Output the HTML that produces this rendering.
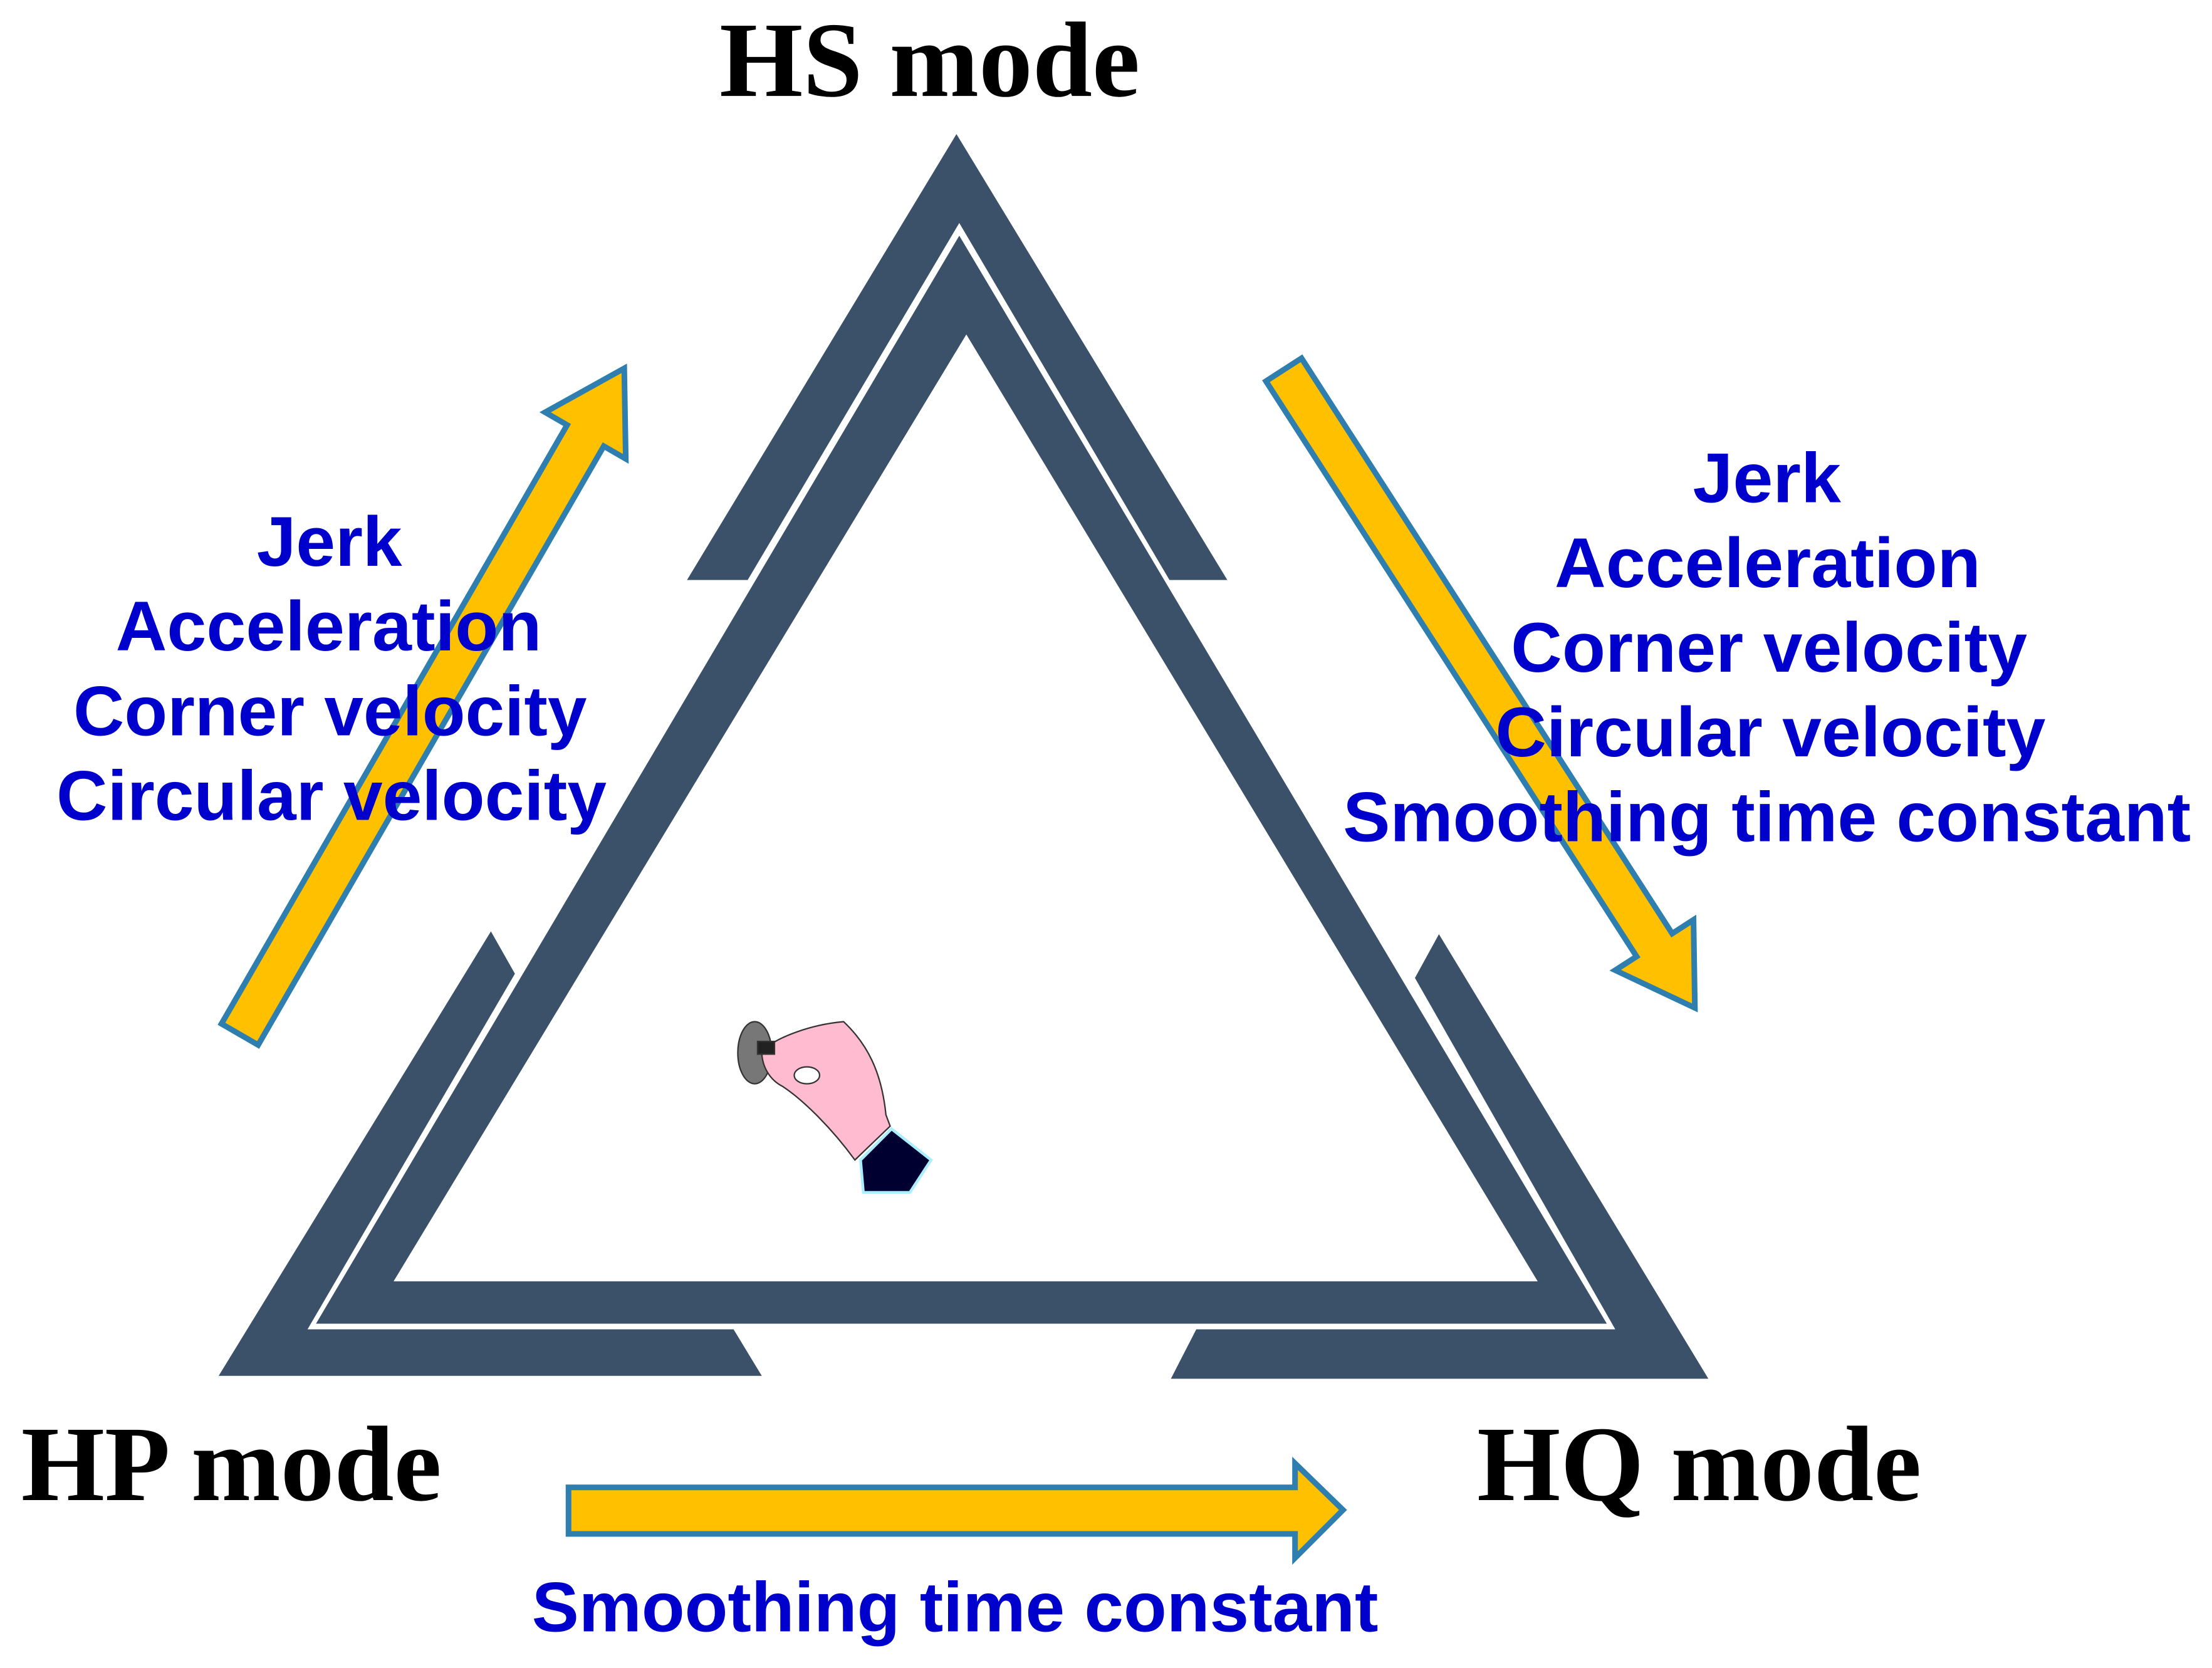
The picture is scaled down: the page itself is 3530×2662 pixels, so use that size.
<!DOCTYPE html>
<html><head><meta charset="utf-8"><style>html,body{margin:0;padding:0;background:#fff}svg{display:block}</style></head>
<body>
<svg width="3530" height="2662" viewBox="0 0 1568 1182" preserveAspectRatio="none" xmlns="http://www.w3.org/2000/svg">
<rect width="1568" height="1182" fill="#fff"/>
<g fill="#3a5169">
<polygon points="678,95 870,411 829,411 680,158 530,411 487,411"/>
<polygon points="348,660 365,690 218,942 520,942 540,975 155,975"/>
<polygon points="1020,662 1211,977 830,977 848,942 1145,942 1003,693"/>
<path fill-rule="evenodd" d="M680,167 L1139,938 L224,938 Z M685,237 L279,908 L1090,908 Z"/>
</g>
<g fill="#ffc000" stroke="#2e7fb0" stroke-width="4" stroke-linejoin="miter">
<polygon transform="translate(170,733) rotate(-60)" points="0,-15 490,-15 490,-33 545,0 490,33 490,15 0,15"/>
<polygon transform="translate(910,262) rotate(57.2)" points="0,-15 485,-15 485,-33 538,0 485,33 485,15 0,15"/>
<polygon points="403,1054 918,1054 918,1037 952,1070 918,1104 918,1087 403,1087" fill="#ffc000"/>
</g>
<g font-family="'Liberation Serif',serif" font-weight="bold" font-size="76" fill="#000">
<text x="510" y="68" textLength="298" lengthAdjust="spacingAndGlyphs">HS mode</text>
<text x="15" y="1063" textLength="298" lengthAdjust="spacingAndGlyphs">HP mode</text>
<text x="1047" y="1063" textLength="315" lengthAdjust="spacingAndGlyphs">HQ mode</text>
</g>
<g font-family="'Liberation Sans',sans-serif" font-weight="bold" font-size="50" fill="#0000cc" lengthAdjust="spacingAndGlyphs">
<text x="182" y="401" textLength="103" lengthAdjust="spacingAndGlyphs">Jerk</text>
<text x="82" y="461" textLength="302" lengthAdjust="spacingAndGlyphs">Acceleration</text>
<text x="52" y="521" textLength="364" lengthAdjust="spacingAndGlyphs">Corner velocity</text>
<text x="40" y="581" textLength="390" lengthAdjust="spacingAndGlyphs">Circular velocity</text>
<text x="1200" y="356" textLength="105" lengthAdjust="spacingAndGlyphs">Jerk</text>
<text x="1102" y="416" textLength="302" lengthAdjust="spacingAndGlyphs">Acceleration</text>
<text x="1071" y="476" textLength="366" lengthAdjust="spacingAndGlyphs">Corner velocity</text>
<text x="1060" y="536" textLength="390" lengthAdjust="spacingAndGlyphs">Circular velocity</text>
<text x="952" y="596" textLength="601" lengthAdjust="spacingAndGlyphs">Smoothing time constant</text>
<text x="377" y="1156" textLength="600" lengthAdjust="spacingAndGlyphs">Smoothing time constant</text>
</g>
<g stroke="#333" stroke-width="1">
<ellipse cx="535" cy="746" rx="12" ry="22" fill="#777"/>
<path d="M540,745 C550,735 575,726 598,724 C615,740 625,760 628,790 L631,798 L606,822 C590,800 570,780 555,770 C545,765 540,755 540,745 Z" fill="#ffbbd0"/>
<rect x="537" y="738" width="12" height="9" fill="#222"/>
<ellipse cx="572" cy="762" rx="9" ry="6" fill="#fff"/>
</g>
<polygon points="610,822 632,800 660,822 645,845 612,845" fill="#000030" stroke="#aef" stroke-width="2"/>
</svg>
</body></html>
